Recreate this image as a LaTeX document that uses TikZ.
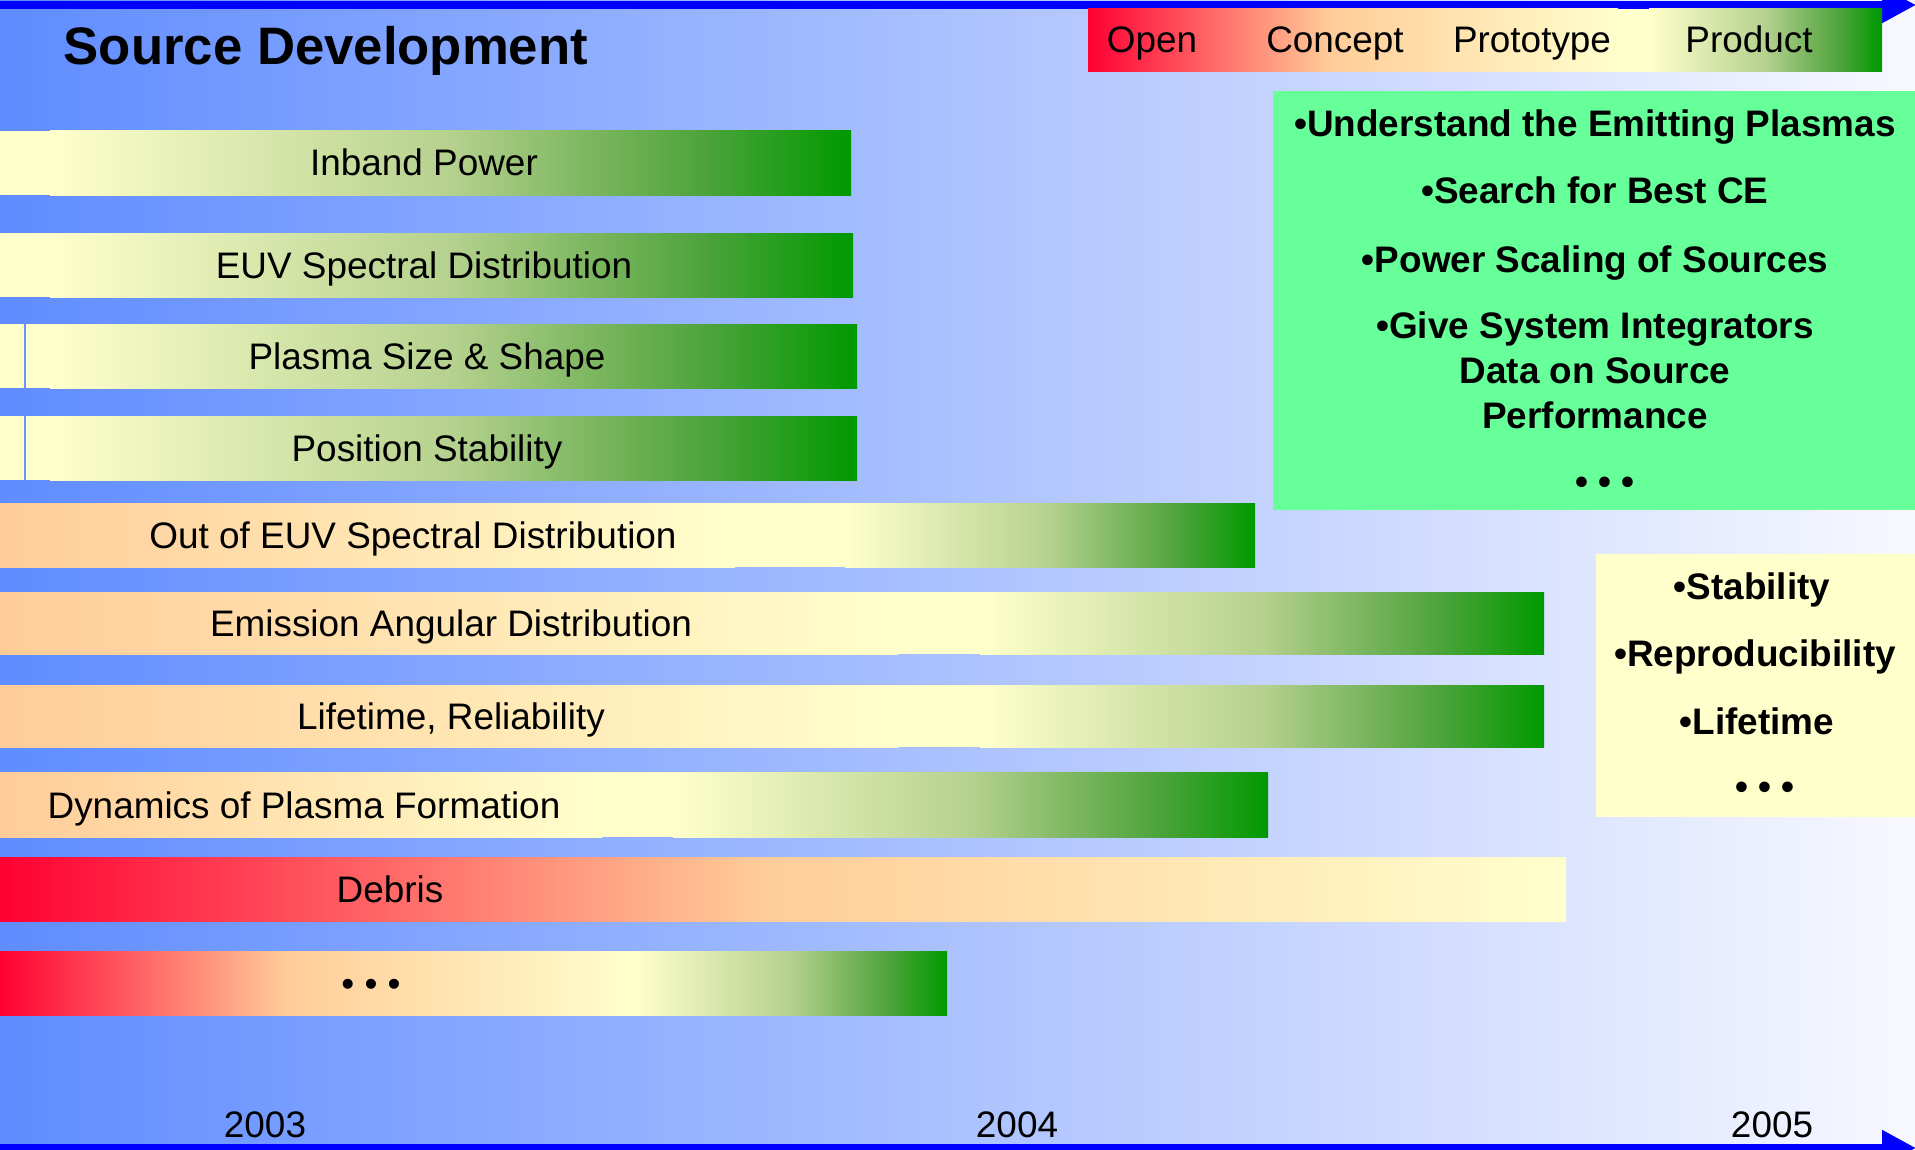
\documentclass[tikz,border=0pt]{standalone}
\usepackage{fontspec}
\setmainfont{Liberation Sans}
\usetikzlibrary{arrows.meta}
\usepackage{xcolor}

\definecolor{bgleft}{HTML}{5F8CFF}
\definecolor{bgmid}{HTML}{CCD8FF}
\definecolor{bgright}{HTML}{F8F8FF}
\definecolor{stred}{HTML}{FF0033}
\definecolor{stsalmon}{HTML}{FF7A66}
\definecolor{stpeach}{HTML}{FFCC99}
\definecolor{styellow}{HTML}{FFFFCC}
\definecolor{stolive}{HTML}{B5D18E}
\definecolor{stmoss}{HTML}{7DB761}
\definecolor{stleaf}{HTML}{4FA43D}
\definecolor{stgreen}{HTML}{009900}
\definecolor{goalgreen}{HTML}{66FF99}
\definecolor{seam}{HTML}{6A93FF}

\pgfdeclarehorizontalshading{greenramp}{100bp}{color(0bp)=(styellow); color(25bp)=(styellow);
  color(50bp)=(stolive); color(58.5bp)=(stmoss); color(65.5bp)=(stleaf); color(75bp)=(stgreen); color(100bp)=(stgreen)}

\tikzset{
  bartext/.style={anchor=base, inner sep=0pt, font=\fontsize{10.5}{12.6}\selectfont},
  goaltext/.style={bartext, font=\fontsize{10.5}{12.6}\selectfont\bfseries},
  toyellow/.style={left color=stpeach, right color=styellow},
  togreen/.style={shading=greenramp},
  topeach/.style={left color=stred, middle color=stsalmon, right color=stpeach},
  timeaxis/.style={blue, line width=0.8mm, -{Triangle[length=3.4mm,width=3.4mm]}}
}

\begin{document}
\begin{tikzpicture}[y=-1cm]
\useasboundingbox (0,0) rectangle (19.15,11.49);
\shade[left color=bgleft, middle color=bgmid, right color=bgright] (0,0) rectangle (19.15,11.49);

\draw[timeaxis] (0,0.05) -- (19.16,0.05);
\draw[timeaxis] (0,11.48) -- (19.16,11.48);

\node[goaltext, anchor=base west, font=\fontsize{15}{18}\selectfont\bfseries] (title) at (0.63,0.65) {Source Development};

% stage legend
\shade[topeach] (10.88,0.09) rectangle (13.30,0.72);
\shade[toyellow] (13.29,0.09) rectangle (16.18,0.72);
\fill[styellow] (16.17,0.09) rectangle (16.50,0.72);
\shade[togreen] (16.49,0.09) rectangle (18.82,0.72);
\node[bartext] (open) at (11.52,0.53) {Open};
\node[bartext] (concept) at (13.35,0.53) {Concept};
\node[bartext] (prototype) at (15.32,0.53) {Prototype};
\node[bartext] (product) at (17.49,0.53) {Product};

% bars
\fill[styellow] (0,1.31) rectangle (8.51,1.95);
\shade[togreen] (0.5,1.31) rectangle (8.51,1.95);
\fill[styellow] (0,2.33) rectangle (8.53,2.97);
\shade[togreen] (0.5,2.33) rectangle (8.53,2.97);
\fill[styellow] (0,3.24) rectangle (8.57,3.88);
\shade[togreen] (0.5,3.24) rectangle (8.57,3.88);
\fill[styellow] (0,4.16) rectangle (8.57,4.80);
\shade[togreen] (0.5,4.16) rectangle (8.57,4.80);
\draw[seam, line width=0.2mm] (0.25,3.24) -- (0.25,3.88);
\draw[seam, line width=0.2mm] (0.25,4.16) -- (0.25,4.80);

\fill[styellow] (0,5.03) rectangle (12.55,5.67);
\shade[toyellow] (0,5.03) rectangle (7.35,5.67);
\shade[togreen] (8.45,5.03) rectangle (12.55,5.67);
\fill[styellow] (0,5.92) rectangle (15.44,6.54);
\shade[toyellow] (0,5.92) rectangle (8.98,6.54);
\shade[togreen] (9.80,5.92) rectangle (15.44,6.54);
\fill[styellow] (0,6.85) rectangle (15.44,7.47);
\shade[toyellow] (0,6.85) rectangle (8.98,7.47);
\shade[togreen] (9.80,6.85) rectangle (15.44,7.47);
\fill[styellow] (0,7.72) rectangle (12.68,8.37);
\shade[toyellow] (0,7.72) rectangle (6.02,8.37);
\shade[togreen] (6.73,7.72) rectangle (12.68,8.37);

\fill[stpeach] (0,8.57) rectangle (15.66,9.21);
\shade[topeach] (0,8.57) rectangle (7.60,9.21);
\shade[toyellow] (7.59,8.57) rectangle (15.66,9.21);
\fill[stpeach] (0,9.51) rectangle (9.47,10.15);
\shade[topeach] (0,9.51) rectangle (2.86,10.15);
\shade[toyellow] (2.85,9.51) rectangle (6.35,10.15);
\shade[togreen] (6.34,9.51) rectangle (9.47,10.15);

\node[bartext] (inband) at (4.24,1.76) {Inband Power};
\node[bartext] (euvspec) at (4.24,2.78) {EUV Spectral Distribution};
\node[bartext] (size) at (4.27,3.69) {Plasma Size \& Shape};
\node[bartext] (position) at (4.27,4.61) {Position Stability};
\node[bartext] (outband) at (4.13,5.48) {Out of EUV Spectral Distribution};
\node[bartext] (angular) at (4.51,6.36) {Emission Angular Distribution};
\node[bartext] (lifetime) at (4.51,7.29) {Lifetime, Reliability};
\node[bartext] (dynamics) at (3.04,8.18) {Dynamics of Plasma Formation};
\node[bartext] (debris) at (3.90,9.02) {Debris};
\node[bartext] (more) at (3.71,9.96) {• • •};

% goals
\fill[goalgreen] (12.73,0.91) rectangle (19.2,5.10);
\node[goaltext] (goal1) at (15.95,1.36) {•Understand the Emitting Plasmas};
\node[goaltext] (goal2) at (15.95,2.04) {•Search for Best CE};
\node[goaltext] (goal3) at (15.95,2.72) {•Power Scaling of Sources};
\node[goaltext] (goal4) at (15.95,3.38) {•Give System Integrators};
\node[goaltext] (goal4b) at (15.95,3.83) {Data on Source};
\node[goaltext] (goal4c) at (15.95,4.28) {Performance};
\node[goaltext] (goalmore) at (16.05,4.94) {• • •};

\fill[styellow] (15.96,5.54) rectangle (19.2,8.17);
\node[goaltext] (need1) at (17.52,5.99) {•Stability};
\node[goaltext] (need2) at (17.55,6.66) {•Reproducibility};
\node[goaltext] (need3) at (17.57,7.34) {•Lifetime};
\node[goaltext] (needmore) at (17.65,7.99) {• • •};

\node[bartext] (y2003) at (2.65,11.37) {2003};
\node[bartext] (y2004) at (10.17,11.37) {2004};
\node[bartext] (y2005) at (17.72,11.37) {2005};
\end{tikzpicture}
\end{document}
